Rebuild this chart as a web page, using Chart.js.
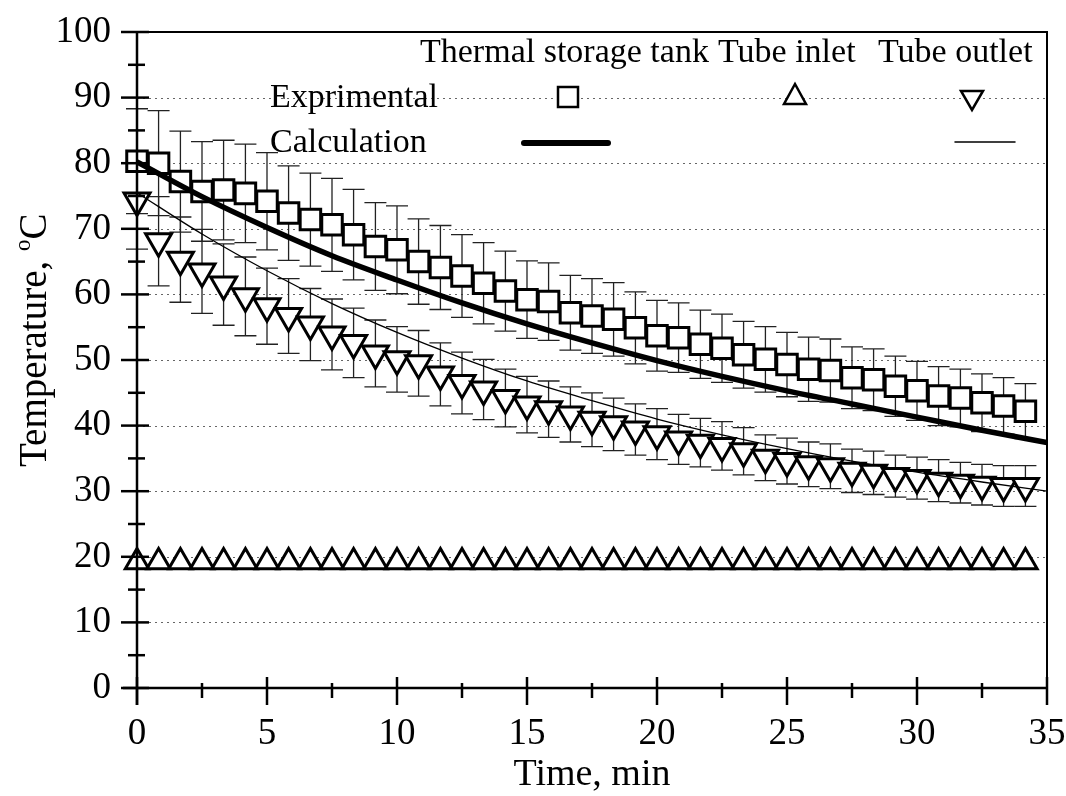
<!DOCTYPE html>
<html lang="en">
<head>
  <meta charset="UTF-8">
  <title>Temperature vs time</title>
  <script src="https://cdn.jsdelivr.net/npm/chart.js"></script>
  <style>
    body { margin: 0; background: #fff; }
    #wrap { width: 1066px; height: 796px; }
  </style>
</head>
<body>
  <div id="wrap"><canvas id="myChart" width="1066" height="796"></canvas></div>

  <script>
    // measurement times, min
    const time = [0, 0.83, 1.67, 2.5, 3.33, 4.17, 5, 5.83, 6.67, 7.5, 8.33, 9.17, 10, 10.83,
      11.67, 12.5, 13.33, 14.17, 15, 15.83, 16.67, 17.5, 18.33, 19.17, 20, 20.83, 21.67,
      22.5, 23.33, 24.17, 25, 25.83, 26.67, 27.5, 28.33, 29.17, 30, 30.83, 31.67, 32.5,
      33.33, 34.17];

    const tankExp = [80.3, 80.0, 77.2, 75.7, 75.9, 75.4, 74.2, 72.4, 71.4, 70.6, 69.1, 67.3,
      66.8, 65.0, 64.1, 62.8, 61.7, 60.5, 59.2, 58.9, 57.2, 56.7, 56.2, 54.9, 53.7, 53.4,
      52.4, 51.8, 50.8, 50.1, 49.3, 48.6, 48.4, 47.3, 47.0, 46.0, 45.3, 44.5, 44.2, 43.5,
      43.0, 42.2];
    const tankErr = [8.0, 8.0, 7.7, 7.6, 7.6, 7.5, 7.4, 7.2, 7.1, 7.1, 6.9, 6.7, 6.7, 6.5,
      6.4, 6.3, 6.2, 6.1, 5.9, 5.9, 5.7, 5.7, 5.6, 5.5, 5.4, 5.3, 5.2, 5.2, 5.1, 5.0, 4.9,
      4.9, 4.8, 4.7, 4.7, 4.6, 4.5, 4.5, 4.4, 4.4, 4.3, 4.2];

    const inletExp = [19.2, 19.2, 19.2, 19.2, 19.2, 19.2, 19.2, 19.2, 19.2, 19.2, 19.2, 19.2,
      19.2, 19.2, 19.2, 19.2, 19.2, 19.2, 19.2, 19.2, 19.2, 19.2, 19.2, 19.2, 19.2, 19.2,
      19.2, 19.2, 19.2, 19.2, 19.2, 19.2, 19.2, 19.2, 19.2, 19.2, 19.2, 19.2, 19.2, 19.2,
      19.2, 19.2];

    const outletExp = [74.3, 68.1, 65.3, 63.5, 61.5, 59.7, 58.2, 56.7, 55.4, 53.9, 52.6, 51.0,
      50.1, 49.5, 47.8, 46.5, 45.5, 44.2, 43.2, 42.5, 41.7, 40.9, 40.2, 39.4, 38.7, 37.9,
      37.4, 36.9, 36.1, 35.1, 34.6, 34.1, 33.8, 33.1, 32.8, 32.3, 32.0, 31.6, 31.3, 31.0,
      30.8, 30.8];
    const outletErr = [7.4, 6.8, 6.5, 6.4, 6.2, 6.0, 5.8, 5.7, 5.5, 5.4, 5.3, 5.1, 5.0, 5.0,
      4.8, 4.7, 4.6, 4.4, 4.3, 4.3, 4.2, 4.1, 4.0, 3.9, 3.9, 3.8, 3.7, 3.7, 3.6, 3.5, 3.5,
      3.4, 3.4, 3.3, 3.3, 3.2, 3.2, 3.2, 3.1, 3.1, 3.1, 3.1];

    // calculated curves
    const calcTime = [0, 2.5, 5, 7.5, 10, 12.5, 15, 17.5, 20, 22.5, 25, 27.5, 30, 32.5, 35];
    const tankCalc = [80.2, 74.9, 70.2, 65.9, 62.2, 58.7, 55.5, 52.6, 49.9, 47.5, 45.3, 43.3, 41.3, 39.3, 37.4];
    const outletCalc = [75.5, 69.2, 63.6, 58.6, 54.2, 50.3, 46.8, 43.8, 41.0, 38.6, 36.5, 34.6, 32.9, 31.4, 30.0];

    const xTicks = [0, 5, 10, 15, 20, 25, 30, 35];
    const yTicks = [0, 10, 20, 30, 40, 50, 60, 70, 80, 90, 100];

    const SERIF = "'Liberation Serif', 'Times New Roman', serif";
    const pts = (xs, ys) => xs.map((x, i) => ({ x: x, y: ys[i] }));

    const decor = {
      id: 'decor',
      beforeDatasetsDraw(chart) {
        const { ctx, chartArea: a, scales: { x, y } } = chart;
        ctx.save();
        // dotted grid
        ctx.strokeStyle = '#666';
        ctx.lineWidth = 1;
        ctx.setLineDash([2, 4]);
        yTicks.forEach(v => {
          if (v === 0 || v === 100) return;
          const py = Math.round(y.getPixelForValue(v)) + 0.5;
          ctx.beginPath(); ctx.moveTo(a.left, py); ctx.lineTo(a.right, py); ctx.stroke();
        });
        ctx.setLineDash([]);
        // error bars
        ctx.strokeStyle = '#222';
        ctx.lineWidth = 1.3;
        const bars = (vals, errs) => vals.forEach((v, i) => {
          const px = x.getPixelForValue(time[i]);
          const t = y.getPixelForValue(v + errs[i]);
          const b = y.getPixelForValue(v - errs[i]);
          ctx.beginPath();
          ctx.moveTo(px, t); ctx.lineTo(px, b);
          ctx.moveTo(px - 11, t); ctx.lineTo(px + 11, t);
          ctx.moveTo(px - 11, b); ctx.lineTo(px + 11, b);
          ctx.stroke();
        });
        bars(tankExp, tankErr);
        bars(outletExp, outletErr);
        ctx.restore();
      },
      afterDatasetsDraw(chart) {
        const { ctx, chartArea: a, scales: { x, y } } = chart;
        ctx.save();
        ctx.strokeStyle = '#000';
        // frame
        ctx.lineWidth = 2;
        ctx.beginPath();
        ctx.moveTo(121, a.top); ctx.lineTo(a.right, a.top); ctx.lineTo(a.right, a.bottom);
        ctx.stroke();
        ctx.lineWidth = 2.5;
        ctx.beginPath();
        ctx.moveTo(a.left, a.top); ctx.lineTo(a.left, a.bottom + 17);
        ctx.moveTo(a.left - 14, a.bottom); ctx.lineTo(a.right, a.bottom);
        ctx.stroke();
        // y ticks
        for (let v = 0; v <= 100; v += 5) {
          const py = y.getPixelForValue(v);
          const major = v % 10 === 0;
          ctx.beginPath();
          ctx.moveTo(a.left - (major ? 16 : 9), py);
          ctx.lineTo(a.left + (major ? 12 : 8), py);
          ctx.stroke();
        }
        // x ticks
        for (let v = 0; v <= 35; v += 2.5) {
          const px = x.getPixelForValue(v);
          const major = v % 5 === 0;
          ctx.beginPath();
          ctx.moveTo(px, a.bottom - (major ? 11 : 5));
          ctx.lineTo(px, a.bottom + (major ? 17 : 10));
          ctx.stroke();
        }
        ctx.restore();
      },
      afterDraw(chart) {
        const { ctx } = chart;
        ctx.save();
        ctx.fillStyle = '#000';
        ctx.strokeStyle = '#000';
        ctx.textBaseline = 'alphabetic';
        // legend
        ctx.font = '34px ' + SERIF;
        ctx.textAlign = 'left';
        ctx.fillText('Thermal storage tank', 420, 62);
        ctx.fillText('Tube inlet', 718, 62);
        ctx.fillText('Tube outlet', 878, 62);
        ctx.fillText('Exprimental', 270, 107);
        ctx.fillText('Calculation', 270, 152);

        ctx.lineWidth = 2.5;
        ctx.fillStyle = '#fff';
        ctx.fillRect(558, 87, 20, 20);
        ctx.strokeRect(558, 87, 20, 20);
        ctx.beginPath();
        ctx.moveTo(795, 84); ctx.lineTo(806, 104); ctx.lineTo(784, 104); ctx.closePath();
        ctx.fill(); ctx.stroke();
        ctx.beginPath();
        ctx.moveTo(961, 91); ctx.lineTo(983, 91); ctx.lineTo(972, 110); ctx.closePath();
        ctx.fill(); ctx.stroke();

        ctx.lineCap = 'round';
        ctx.lineWidth = 6;
        ctx.beginPath(); ctx.moveTo(524, 143); ctx.lineTo(608, 143); ctx.stroke();
        ctx.lineWidth = 1.5;
        ctx.beginPath(); ctx.moveTo(955, 142); ctx.lineTo(1015, 142); ctx.stroke();

        // axis titles
        ctx.fillStyle = '#000';
        ctx.font = '38px ' + SERIF;
        ctx.textAlign = 'center';
        ctx.fillText('Time, min', 592, 785);

        ctx.translate(46, 467);
        ctx.rotate(-Math.PI / 2);
        ctx.textAlign = 'left';
        const main = 'Temperature, ';
        ctx.font = '39px ' + SERIF;
        ctx.fillText(main, 0, 0);
        let w = ctx.measureText(main).width;
        ctx.font = '23px ' + SERIF;
        ctx.fillText('o', w, -16);
        w += ctx.measureText('o').width;
        ctx.font = '39px ' + SERIF;
        ctx.fillText('C', w, 0);
        ctx.restore();
      }
    };

    const ctx = document.getElementById('myChart').getContext('2d');
    new Chart(ctx, {
      type: 'scatter',
      data: {
        datasets: [
          {
            type: 'line',
            label: 'Calculation, thermal storage tank',
            data: pts(calcTime, tankCalc),
            borderColor: '#000',
            borderWidth: 5.5,
            pointRadius: 0,
            cubicInterpolationMode: 'monotone',
            fill: false
          },
          {
            type: 'line',
            label: 'Calculation, tube outlet',
            data: pts(calcTime, outletCalc),
            borderColor: '#000',
            borderWidth: 1.3,
            pointRadius: 0,
            cubicInterpolationMode: 'monotone',
            fill: false
          },
          {
            label: 'Exprimental, thermal storage tank',
            data: pts(time, tankExp),
            pointStyle: 'rect',
            pointRadius: 14.5,
            borderWidth: 3,
            borderColor: '#000',
            backgroundColor: '#fff',
            showLine: false,
            clip: false
          },
          {
            label: 'Exprimental, tube inlet',
            data: pts(time, inletExp),
            pointStyle: 'triangle',
            pointRadius: 13.5,
            borderWidth: 3,
            borderColor: '#000',
            backgroundColor: '#fff',
            showLine: false,
            clip: false
          },
          {
            label: 'Exprimental, tube outlet',
            data: pts(time, outletExp),
            pointStyle: 'triangle',
            rotation: 180,
            pointRotation: 180,
            pointRadius: 15,
            borderWidth: 3,
            borderColor: '#000',
            backgroundColor: '#fff',
            showLine: false,
            clip: false
          }
        ]
      },
      options: {
        responsive: false,
        animation: false,
        devicePixelRatio: 1,
        layout: { padding: { left: 0, top: 32, right: 19, bottom: 0 } },
        plugins: {
          legend: { display: false },
          tooltip: { enabled: false },
          title: { display: false }
        },
        scales: {
          x: {
            type: 'linear',
            min: 0,
            max: 35,
            afterFit: s => { s.height = 108; s.paddingLeft = 0; s.paddingRight = 0; },
            afterBuildTicks: s => { s.ticks = xTicks.map(v => ({ value: v })); },
            grid: { display: false, drawTicks: false },
            border: { display: false },
            ticks: { color: '#000', padding: 24, font: { family: SERIF, size: 37 } }
          },
          y: {
            min: 0,
            max: 100,
            afterFit: s => { s.width = 137; s.paddingTop = 0; s.paddingBottom = 0; },
            afterBuildTicks: s => { s.ticks = yTicks.map(v => ({ value: v })); },
            grid: { display: false, drawTicks: false },
            border: { display: false },
            ticks: { color: '#000', padding: 26, font: { family: SERIF, size: 37 } }
          }
        }
      },
      plugins: [decor]
    });
  </script>
</body>
</html>
